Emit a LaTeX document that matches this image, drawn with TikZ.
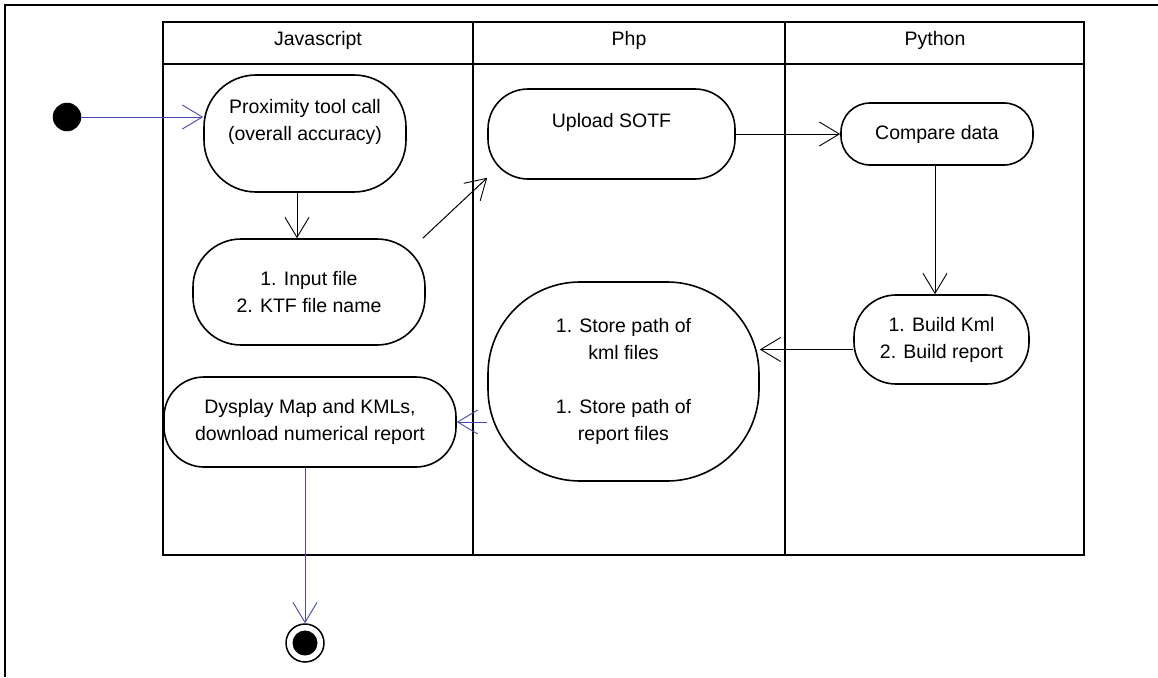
\documentclass[tikz,border=0pt]{standalone}
\usepackage{fontspec}
\setmainfont{Liberation Sans}
\usepackage{tikz}
\usetikzlibrary{arrows.meta,positioning,calc}
\definecolor{umlblue}{RGB}{70,70,180}
\tikzset{
  act/.style={draw, rounded corners=#1, align=center, fill=white, line width=1.6pt, inner sep=0pt},
  act/.default=40pt,
  lane/.style={draw, line width=1.6pt},
  flow/.style={-{Straight Barb[length=20pt, width=24pt, line width=0.9pt]}, line width=1pt},
  blueflow/.style={flow, draw=umlblue},
  startdot/.style={circle, fill=black, draw=black, line width=1.5pt, minimum size=27pt, inner sep=0pt},
  stopdot/.style={circle, draw=black, fill=white, line width=1.5pt, minimum size=38pt, inner sep=0pt,
    path picture={\fill[black] (path picture bounding box.center) circle (12.5pt);}},
}

\begin{document}
\begin{tikzpicture}[x=1pt, y=-1pt, font=\fontsize{19.5}{27}\selectfont]
  \useasboundingbox (0,0) rectangle (1158,677);
  \draw[line width=1.5pt] (5,677) -- (5,5) -- (1158,5);

  % swimlanes
  \draw[lane] (163,22) rectangle (1084,555);
  \draw[lane] (163,64) -- (1084,64);
  \draw[lane] (473,22) -- (473,555);
  \draw[lane] (785,22) -- (785,555);
  \node (jsHead) at (318,40) {Javascript};
  \node (phpHead) at (629,40) {Php};
  \node (pyHead) at (935,40) {Python};

  % activities
  \node[startdot] (start) at (67,117) {};
  \node[act=52pt, minimum width=202pt, minimum height=117pt] (prox) at (305,133.5) {Proximity tool call\\(overall accuracy)\\~};
  \node[act=48pt, minimum width=232pt, minimum height=106pt] (input) at (309,292) {1. Input file\\2. KTF file name};
  \node[act, minimum width=247pt, minimum height=90pt] (upload) at (611.5,134) {Upload SOTF\\~};
  \node[act=29pt, minimum width=192pt, minimum height=62pt] (compare) at (937,134) {Compare data};
  \node[act=42pt, minimum width=175pt, minimum height=89pt] (build) at (941.5,339.5) {1. Build Kml\\2. Build report};
  \node[act=92pt, minimum width=271pt, minimum height=199pt] (store) at (623.5,381.5) {1. Store path of\\kml files\\~\\1. Store path of\\report files};
  \node[act=40pt, minimum width=292pt, minimum height=90pt] (show) at (310,422) {Dysplay Map and KMLs,\\download numerical report};
  \node[stopdot] (stop) at (305,643) {};

  \draw[blueflow] (start) -- (start -| prox.west);
  \draw[flow] ([xshift=-8pt]prox.south) -- ([xshift=-8pt]prox.south |- input.north);
  \draw[flow] ([xshift=-3pt]input.north east) -- ([yshift=2pt]upload.south west);
  \draw[flow] (upload.east) -- (compare.west);
  \draw[flow] ([xshift=-2pt]compare.south) -- ([xshift=-2pt]compare.south |- build.north);
  \draw[flow] ([yshift=-10pt]build.west) -- ([yshift=-10pt]build.west -| store.east);
  \draw[blueflow] (store.west |- show.east) -- (show.east);
  \draw[blueflow] (stop.north |- show.south) -- (stop.north);
\end{tikzpicture}
\end{document}
